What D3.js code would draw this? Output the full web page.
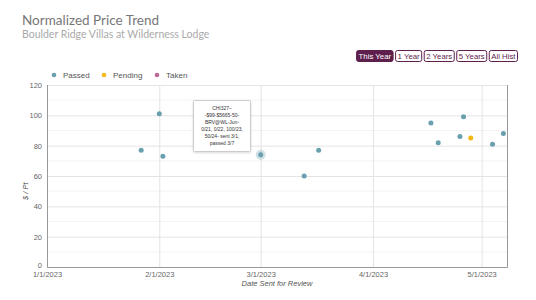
<!DOCTYPE html>
<html>
<head>
<meta charset="utf-8">
<script src="https://cdn.jsdelivr.net/npm/d3@7"></script>
<style>
  body { margin: 0; background: #fff; font-family: "Liberation Sans", Arial, sans-serif; }
  svg { display: block; }
</style>
</head>
<body>
<svg id="chart" width="536" height="300"></svg>
<script>
const STATUSES = ["Passed", "Pending", "Taken"];
const STATUS_COLORS = ["#6a9fb0", "#f2b816", "#c0669a"];

const DATES = ["2023-01-27", "2023-02-01", "2023-02-02", "2023-03-01", "2023-03-13", "2023-03-17",
    "2023-04-17", "2023-04-19", "2023-04-25", "2023-04-26", "2023-04-28", "2023-05-04", "2023-05-07"];
const VALUES = [77, 101, 73, 74, 60, 77, 95, 82, 86, 99, 85, 81, 88];
const STATUS_OF = ["Passed", "Passed", "Passed", "Passed", "Passed", "Passed",
    "Passed", "Passed", "Passed", "Passed", "Pending", "Passed", "Passed"];

const Y_TICKS = [0, 20, 40, 60, 80, 100, 120];
const X_TICKS = ["2023-01-01", "2023-02-01", "2023-03-01", "2023-04-01", "2023-05-01"];
const BUTTONS = ["This Year", "1 Year", "2 Years", "5 Years", "All Hist"];
const TOOLTIP_LINES = ["CHI327–", "-$99-$5665-50-", "BRV@WL-Jun-", "0/21, 0/22, 100/23,", "50/24- sent 3/1,", "passed 3/7"];
const HIGHLIGHT = 3;

const parse = d3.timeParse("%Y-%m-%d");
const fmt = d3.timeFormat("%-m/%-d/%Y");

const MARGIN = { left: 47, right: 29, top: 85, bottom: 33 };
const W = 536, H = 300;

const svg = d3.select("#chart");

// titles
svg.append("text").attr("x", 22).attr("y", 25)
    .style("font-family", "Lato").style("font-size", "13.5px").style("fill", "#777")
    .text("Normalized Price Trend");
svg.append("text").attr("x", 22).attr("y", 38)
    .style("font-family", "Lato").style("font-size", "10.5px").style("fill", "#aaa")
    .text("Boulder Ridge Villas at Wilderness Lodge");

// range buttons, measured then laid out right-aligned
const btnWidths = BUTTONS.map((b) => {
    const t = svg.append("text").style("font-size", "7.8px").text(b);
    const w = t.node().getComputedTextLength() + 4;
    t.remove();
    return w;
});
let cx = 517 - d3.sum(btnWidths) - 2.5 * (BUTTONS.length - 1);
BUTTONS.forEach((b, i) => {
    const g = svg.append("g").attr("transform", `translate(${cx},50)`);
    g.append("rect").attr("x", 0.5).attr("y", 0.5).attr("width", btnWidths[i]).attr("height", 11)
        .attr("rx", 2)
        .attr("fill", i === 0 ? "#5e1f4d" : "#fff")
        .attr("stroke", "#5e1f4d").attr("stroke-width", 1);
    g.append("text").attr("x", btnWidths[i] / 2 + 0.5).attr("y", 8.8)
        .attr("text-anchor", "middle")
        .style("font-size", "7.8px").style("fill", i === 0 ? "#fff" : "#5e1f4d")
        .text(b);
    cx += btnWidths[i] + 2.5;
});

// legend
const legendX = [54, 104, 157];
STATUSES.forEach((s, i) => {
    svg.append("circle").attr("cx", legendX[i]).attr("cy", 75).attr("r", 2.3).attr("fill", STATUS_COLORS[i]);
    svg.append("text").attr("x", legendX[i] + 9).attr("y", 78)
        .style("font-size", "8px").style("fill", "#555").text(s);
});

const x = d3.scaleTime()
    .domain([parse("2023-01-01"), parse("2023-05-08")])
    .range([MARGIN.left, W - MARGIN.right]);
const y = d3.scaleLinear().domain([0, 120]).range([H - MARGIN.bottom, MARGIN.top]);

// minor grid
svg.append("g").selectAll("line").data(d3.range(10, 120, 20)).join("line")
    .attr("x1", MARGIN.left).attr("x2", W - MARGIN.right)
    .attr("y1", (d) => y(d)).attr("y2", (d) => y(d))
    .attr("stroke", "#f3f3f3").attr("stroke-width", 1);

// major grid + y labels
const yAxis = svg.append("g").attr("transform", `translate(${MARGIN.left},0)`)
    .call(d3.axisLeft(y).tickValues(Y_TICKS).tickSize(-(W - MARGIN.left - MARGIN.right)).tickPadding(5));
yAxis.select(".domain").remove();
yAxis.selectAll(".tick line").attr("stroke", "#e4e4e4");
yAxis.selectAll(".tick text").style("font-size", "7.5px").style("fill", "#666")
    .attr("font-family", "Liberation Sans")
    .attr("dy", (d) => d === 0 ? "0.1em" : "0.32em");

// vertical grid + x labels
const xAxis = svg.append("g").attr("transform", `translate(0,${H - MARGIN.bottom})`)
    .call(d3.axisBottom(x).tickValues(X_TICKS.map(parse)).tickFormat(fmt)
        .tickSize(-(H - MARGIN.top - MARGIN.bottom)).tickPadding(5));
xAxis.select(".domain").attr("stroke", "#999");
xAxis.selectAll(".tick line").attr("stroke", "#e4e4e4");
xAxis.selectAll(".tick text").style("font-size", "7.5px").style("fill", "#666")
    .attr("font-family", "Liberation Sans");
xAxis.select(".domain").raise();

// axis titles
svg.append("text").attr("x", (MARGIN.left + W - MARGIN.right) / 2).attr("y", 286)
    .attr("text-anchor", "middle").style("font-size", "7.5px").style("font-style", "italic")
    .style("fill", "#555").text("Date Sent for Review");
svg.append("text").attr("transform", `translate(28,${y(50)}) rotate(-90)`)
    .attr("text-anchor", "middle").style("font-size", "7.5px").style("font-style", "italic")
    .style("fill", "#555").text("$ / Pt");

// points
const points = DATES.map((d, i) => ({ date: parse(d), value: VALUES[i], status: STATUS_OF[i] }));
const color = d3.scaleOrdinal().domain(STATUSES).range(STATUS_COLORS);

const hp = points[HIGHLIGHT];
svg.append("circle").attr("cx", x(hp.date)).attr("cy", y(hp.value)).attr("r", 5)
    .attr("fill", color(hp.status)).attr("opacity", 0.3);

svg.append("g").selectAll("circle").data(points).join("circle")
    .attr("cx", (d) => x(d.date)).attr("cy", (d) => y(d.value)).attr("r", 2.5)
    .attr("fill", (d) => color(d.status));

// tooltip
const tip = svg.append("g").attr("transform", "translate(193,100)");
tip.append("rect").attr("x", 0.5).attr("y", 0.5).attr("width", 57).attr("height", 51).attr("rx", 1)
    .attr("fill", "#fff").attr("stroke", "#ccc")
    .style("filter", "drop-shadow(0px 1px 1px rgba(0,0,0,0.15))");
tip.selectAll("text.tl").data(TOOLTIP_LINES).join("text").attr("class", "tl")
    .attr("x", 29).attr("y", (_d, i) => 10 + i * 7)
    .attr("text-anchor", "middle").style("font-size", "5px").style("fill", "#333")
    .text((d) => d);
</script>
</body>
</html>
